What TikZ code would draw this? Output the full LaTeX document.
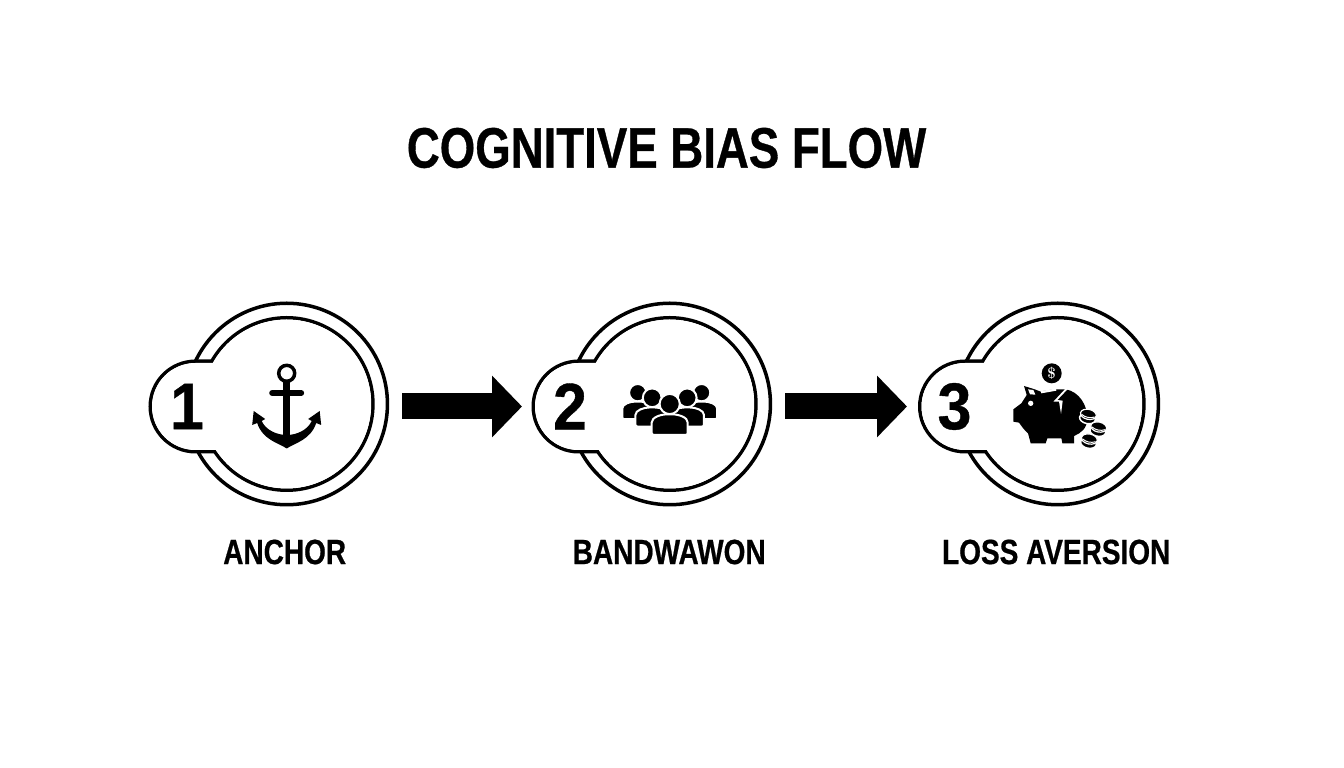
\documentclass[tikz,border=0pt]{standalone}
\usepackage{fontspec}
\newfontfamily\capsfont[FakeStretch=0.8,FakeBold=0.6]{Liberation Sans}
\newfontfamily\numfont[FakeStretch=0.92,FakeBold=0.6]{Liberation Sans}
\usetikzlibrary{arrows.meta,shapes.misc,shapes.geometric}
\tikzstyle{ring} = [draw, circle, line width=3.5pt, inner sep=0, minimum size=201.5pt, fill=white]
\tikzstyle{hub} = [draw, circle, line width=3.5pt, inner sep=0, minimum size=172.5pt, fill=white]
\tikzstyle{hubtop} = [circle, inner sep=0, minimum size=169pt, fill=white]
\tikzstyle{badge} = [draw, rounded rectangle, rounded rectangle right arc=none, line width=3.5pt,
    inner sep=0, minimum height=90.5pt, minimum width=64pt, fill=white]
\tikzstyle{badgetop} = [rounded rectangle, rounded rectangle right arc=none, inner sep=0,
    minimum height=87pt, minimum width=64pt, fill=white]
\tikzstyle{numeral} = [font=\numfont\bfseries\fontsize{66}{66}\selectfont]
\tikzstyle{caption} = [font=\capsfont\bfseries\fontsize{35}{35}\selectfont]
\tikzstyle{flow} = [-{Triangle[length=30pt,width=60pt]}, line width=26pt, shorten <=13pt, shorten >=9.5pt]

% one person, head at (#1,#2), scale #3
\newcommand{\personicon}[3]{
  \begin{scope}[shift={(#1,#2)}, scale=#3]
    \filldraw[draw=white, line width=2pt] (0,0) circle (9.8);
    \filldraw[draw=white, line width=2pt, rounded corners=2pt] (-17.5,-30) -- (-17.5,-20)
      .. controls (-17.5,-13) and (-9,-10) .. (0,-10)
      .. controls (9,-10) and (17.5,-13) .. (17.5,-20) -- (17.5,-30) -- cycle;
  \end{scope}
}
% small stack coin for the pig
\newcommand{\coinicon}[2]{
  \begin{scope}[shift={(#1,#2)}, rotate=-12]
    \filldraw[draw=white, line width=1.5pt] (0,8) ellipse (24 and 15);
    \filldraw[draw=white, line width=1.2pt] (0,-5) ellipse (24 and 15);
    \draw[white, line width=1pt] (-20,-1) .. controls (-8,6) and (8,6) .. (20,-1);
  \end{scope}
}

\begin{document}
\begin{tikzpicture}[x=1pt, y=1pt, node distance = 383pt]
  \useasboundingbox (0,0) rectangle (1344,768);
  \node [font=\capsfont\bfseries\fontsize{57}{57}\selectfont] (title) at (666.5,620) {COGNITIVE BIAS FLOW};

  \node [ring] (r1) at (286.7,364) {};
  \node [ring, right of=r1, node distance = 383pt] (r2) {};
  \node [ring, right of=r2, node distance = 388pt] (r3) {};

  \node [badge, left of=r1, node distance = 91.2pt, yshift=-2.5pt] (b1) {};
  \node [hub] (h1) at (r1) {};
  \node [hubtop] (t1) at (r1) {};
  \node [badgetop, left of=r1, node distance = 91.2pt, yshift=-2.5pt] (m1) {};
  \node [numeral, left of=r1, node distance = 99.7pt, yshift=-2.5pt] (n1) {1};

  \node [badge, left of=r2, node distance = 91.2pt, yshift=-2.5pt] (b2) {};
  \node [hub] (h2) at (r2) {};
  \node [hubtop] (t2) at (r2) {};
  \node [badgetop, left of=r2, node distance = 91.2pt, yshift=-2.5pt] (m2) {};
  \node [numeral, left of=r2, node distance = 99.7pt, yshift=-2.5pt] (n2) {2};

  \node [badge, left of=r3, node distance = 92.7pt, yshift=-2.5pt] (b3) {};
  \node [hub] (h3) at (r3) {};
  \node [hubtop] (t3) at (r3) {};
  \node [badgetop, left of=r3, node distance = 92.7pt, yshift=-2.5pt] (m3) {};
  \node [numeral, left of=r3, node distance = 103.2pt, yshift=-2.5pt] (n3) {3};

  \node [caption, below of=r1, node distance = 148pt, xshift=-2pt] (c1) {ANCHOR};
  \node [caption, below of=r2, node distance = 148pt, xshift=-0.5pt] (c2) {BANDWAWON};
  \node [caption, below of=r3, node distance = 148pt, xshift=-1.5pt] (c3) {LOSS AVERSION};

  \draw [flow] (r1.east |- b2) -- (b2.west);
  \draw [flow, shorten >=11pt] (r2.east |- b3) -- (b3.west);

  % anchor
  \begin{scope}[shift={(r1)}]
    \draw [line width=3.5pt] (0,30.7) circle (8);
    \fill (-3.3,23) rectangle (3.3,-38);
    \draw [line width=6pt, line cap=round] (-14.5,11) -- (14.5,11);
    \fill (0,-44.5) .. controls (-8,-39) and (-24,-36) .. (-29.5,-19) -- (-34.5,-21) -- (-33,-7)
      -- (-21.5,-15) -- (-25,-17) .. controls (-21,-26) and (-10,-31) .. (0,-31)
      .. controls (10,-31) and (21,-26) .. (25,-17) -- (21.5,-15) -- (33,-7) -- (34.5,-21)
      -- (29.5,-19) .. controls (24,-36) and (8,-39) .. (0,-44.5) -- cycle;
  \end{scope}

  % people
  \begin{scope}[shift={(r2)}, scale=1.03]
    \personicon{-31}{11}{0.86}
    \personicon{31}{11}{0.86}
    \personicon{-17}{6}{0.93}
    \personicon{17}{6}{0.93}
    \personicon{0}{0}{1}
  \end{scope}

  % piggy bank, in steps of a third of a pixel
  \begin{scope}[shift={(r3)}, x=0.3333pt, y=-0.3333pt, shift={(-201,-162)}]
    \fill (183,70) circle (30);
    \node [white, font=\bfseries\fontsize{15}{15}\selectfont] (dollar) at (183,70) {\$};
    \fill (68,178) -- (92,160) -- (108,135) -- (100,108) -- (132,118) -- (150,125)
      .. controls (175,118) and (205,118) .. (225,118)
      .. controls (265,125) and (290,165) .. (290,205)
      .. controls (290,235) and (270,250) .. (250,258) -- (250,280) -- (215,280) -- (212,265)
      -- (170,265) -- (165,280) -- (120,280) -- (112,250) .. controls (100,240) and (90,225) .. (85,218)
      -- (68,215) -- cycle;
    \fill [white] (120,160) circle (8);
    \fill [white] (112,118) -- (128,120) -- (134,134) -- (118,133) -- cycle;
    \fill [white] (150,123) -- (196,116) -- (197,122) -- (152,130) -- cycle;
    \fill [white] (228,112) -- (188,155) -- (205,155) -- (211,192) -- (216,152) -- (200,150) -- (236,112) -- cycle;
    \coinicon{292}{198}
    \coinicon{323}{236}
    \coinicon{295}{272}
  \end{scope}
\end{tikzpicture}
\end{document}
